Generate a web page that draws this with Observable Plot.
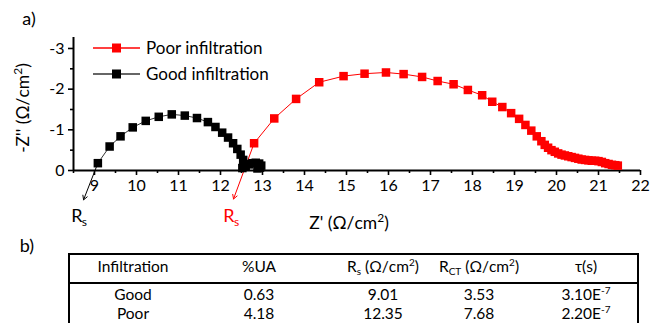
<!DOCTYPE html>
<html><head><meta charset="utf-8">
<script src="https://cdn.jsdelivr.net/npm/d3@7"></script>
<script src="https://cdn.jsdelivr.net/npm/@observablehq/plot@0.6"></script>
<style>
body{margin:0;background:#fff;font-family:Lato,sans-serif;color:#000;}
#wrap{position:relative;width:651px;height:323px;overflow:hidden;background:#fff;}
#wrap svg.plot{position:absolute;left:0;top:0;}
.abs{position:absolute;white-space:nowrap;}
.c{transform:translate(-50%,-50%);}
.rot{transform:translate(-50%,-50%) rotate(-90deg);}
.panel{font-size:18px;}
.atitle{font-size:17.5px;}
.leg{display:flex;align-items:center;font-size:17px;}
.leg svg{margin-right:5px;}
#tbl{position:absolute;left:68px;top:253px;width:567px;height:90px;border:2px solid #000;}
#tbl .hline{position:absolute;left:0;right:0;top:27px;border-top:2px solid #000;}
.cell{font-size:15.5px;line-height:1;}
sub{font-size:10px;vertical-align:-3px;line-height:0;}
sup{font-size:10px;vertical-align:6px;line-height:0;}
.atitle sup{font-size:12px;vertical-align:7px;}
</style></head><body><div id="wrap"></div>
<script>
// ---- chart data ----
const seriesNames = ["Poor infiltration", "Good infiltration"];
const seriesColors = ["#ff0000", "#000000"];
const seriesLineColors = ["#ff0000", "#333333"];
const xTitle = "Z' (Ω/cm<sup>2</sup>)";
const yTitle = "-Z'' (Ω/cm<sup>2</sup>)";

const poorX = [12.80,13.28,13.80,14.35,14.93,15.43,15.94,16.36,16.80,17.17,17.55,17.89,18.23,18.47,18.71,18.92,19.11,19.26,19.40,19.53,19.64,19.72,19.80,19.88,19.96,20.04,20.12,20.20,20.28,20.36,20.44,20.52,20.60,20.68,20.76,20.84,20.92,21.00,21.08,21.16,21.24,21.32,21.40,21.46];
const poorY = [-0.67,-1.28,-1.76,-2.17,-2.32,-2.38,-2.41,-2.37,-2.30,-2.20,-2.12,-1.98,-1.85,-1.69,-1.56,-1.41,-1.27,-1.12,-0.98,-0.84,-0.72,-0.63,-0.56,-0.50,-0.46,-0.42,-0.39,-0.37,-0.35,-0.33,-0.31,-0.29,-0.27,-0.26,-0.25,-0.24,-0.24,-0.23,-0.21,-0.18,-0.16,-0.14,-0.13,-0.12];

const goodX = [9.08,9.36,9.62,9.91,10.22,10.53,10.84,11.15,11.44,11.70,11.88,12.04,12.18,12.30,12.40,12.48,12.54,12.58,12.52,12.60,12.68,12.76,12.84,12.92,12.97,12.94,12.88];
const goodY = [-0.18,-0.59,-0.84,-1.06,-1.22,-1.32,-1.38,-1.35,-1.29,-1.19,-1.07,-0.93,-0.81,-0.67,-0.53,-0.39,-0.26,-0.15,-0.06,-0.10,-0.15,-0.18,-0.19,-0.17,-0.12,-0.07,-0.05];

const xMajorTicks = [9,10,11,12,13,14,15,16,17,18,19,20,21,22];
const xMinorTicks = [8.5,9.5,10.5,11.5,12.5,13.5,14.5,15.5,16.5,17.5,18.5,19.5,20.5,21.5];
const yMajorTicks = [0,-1,-2,-3];
const yMinorTicks = [-0.5,-1.5,-2.5];

// R_s annotations: arrow from first point down to below the axis, label under
const annX1 = [9.08, 12.80];
const annY1 = [-0.18, -0.67];
const annX2 = [8.74, 12.31];
const annY2 = [0.72, 0.70];
const annLabelX = [8.58, 12.20];
const annLabelY = [1.13, 1.13];
const annColors = ["#000000", "#ff0000"];

// ---- table data ----
const tableHeaders = ["Infiltration", "%UA", "R<sub>s</sub> (Ω/cm<sup>2</sup>)", "R<sub>CT</sub> (Ω/cm<sup>2</sup>)", "τ(s)"];
const rowLabels = ["Good", "Poor"];
const uaValues = ["0.63", "4.18"];
const rsValues = ["9.01", "12.35"];
const rctValues = ["3.53", "7.68"];
const tauValues = ["3.10E<sup>-7</sup>", "2.20E<sup>-7</sup>"];

const poor = poorX.map((x, i) => ({x, y: poorY[i]}));
const good = goodX.map((x, i) => ({x, y: goodY[i]}));
const ann = annX1.map((x1, i) => ({x1, y1: annY1[i], x2: annX2[i], y2: annY2[i], lx: annLabelX[i], ly: annLabelY[i], c: annColors[i]}));

const chart = Plot.plot({
  width: 651,
  height: 235,
  marginLeft: 73,
  marginRight: 11,
  marginTop: 37,
  marginBottom: 65,
  style: {fontFamily: "Lato, sans-serif", fontSize: "16px", color: "#000", background: "transparent", overflow: "visible"},
  x: {domain: [8.5, 22]},
  y: {domain: [0, -3.27]},
  marks: [
    Plot.axisX({ticks: xMajorTicks, tickSize: 5, tickPadding: 4, strokeWidth: 1.6, fontSize: 16, tickFormat: d => String(d), label: null}),
    Plot.axisX({ticks: xMinorTicks, tickSize: 3, strokeWidth: 1.6, tickFormat: () => "", label: null}),
    Plot.axisY({ticks: yMajorTicks, tickSize: 5, tickPadding: 4, strokeWidth: 1.6, fontSize: 16, tickFormat: d => String(d), label: null}),
    Plot.axisY({ticks: yMinorTicks, tickSize: 3, strokeWidth: 1.6, tickFormat: () => "", label: null}),
    Plot.ruleY([0], {stroke: "#000", strokeWidth: 2}),
    Plot.ruleX([8.5], {stroke: "#000", strokeWidth: 2}),
    Plot.line(good, {x: "x", y: "y", stroke: seriesLineColors[1], strokeWidth: 1}),
    Plot.line(poor, {x: "x", y: "y", stroke: seriesLineColors[0], strokeWidth: 1}),
    Plot.arrow(ann, {x1: "x1", y1: "y1", x2: "x2", y2: "y2", stroke: "c", strokeWidth: 1, headLength: 7, clip: false}),
    Plot.dot(good, {x: "x", y: "y", symbol: "square", r: 4.8, fill: seriesColors[1], stroke: "none"}),
    Plot.dot(poor, {x: "x", y: "y", symbol: "square", r: 4.8, fill: seriesColors[0], stroke: "none"}),
    Plot.text(ann, {x: "lx", y: "ly", text: () => "R", fill: "c", fontSize: 18, textAnchor: "middle", clip: false}),
    Plot.text(ann, {x: "lx", y: "ly", text: () => "s", fill: "c", fontSize: 12, dx: 5, dy: 6, textAnchor: "start", clip: false})
  ]
});
chart.classList.add("plot");
const wrap = document.getElementById("wrap");
wrap.appendChild(chart);

function addDiv(html, left, top, cls) {
  const d = document.createElement("div");
  d.className = "abs " + (cls || "");
  d.style.left = left + "px";
  d.style.top = top + "px";
  d.innerHTML = html;
  wrap.appendChild(d);
  return d;
}

// panel labels
addDiv("a)", 29, 18, "c panel");
addDiv("b)", 27, 245, "c panel");

// axis titles
addDiv(xTitle, 349, 222, "c atitle");
addDiv(yTitle, 22, 108, "rot atitle");

// legend
seriesNames.forEach((name, i) => {
  const sw = `<svg width="48" height="12"><line x1="0" y1="6" x2="47" y2="6" stroke="${seriesLineColors[i]}" stroke-width="1.5"/><rect x="19" y="1.5" width="9" height="9" fill="${seriesColors[i]}"/></svg>`;
  addDiv(sw + `<span>${name}</span>`, 93, 37 + i * 26, "leg");
});

// table
const tbl = document.createElement("div");
tbl.id = "tbl";
tbl.innerHTML = '<div class="hline"></div>';
wrap.appendChild(tbl);
const colCenters = [133, 259, 383, 479, 586];
tableHeaders.forEach((h, j) => addDiv(h, colCenters[j], 267, "c cell"));
const rowY = [295, 314];
rowLabels.forEach((r, i) => {
  [r, uaValues[i], rsValues[i], rctValues[i], tauValues[i]].forEach((v, j) => addDiv(v, colCenters[j], rowY[i], "c cell"));
});
</script>
</body></html>
